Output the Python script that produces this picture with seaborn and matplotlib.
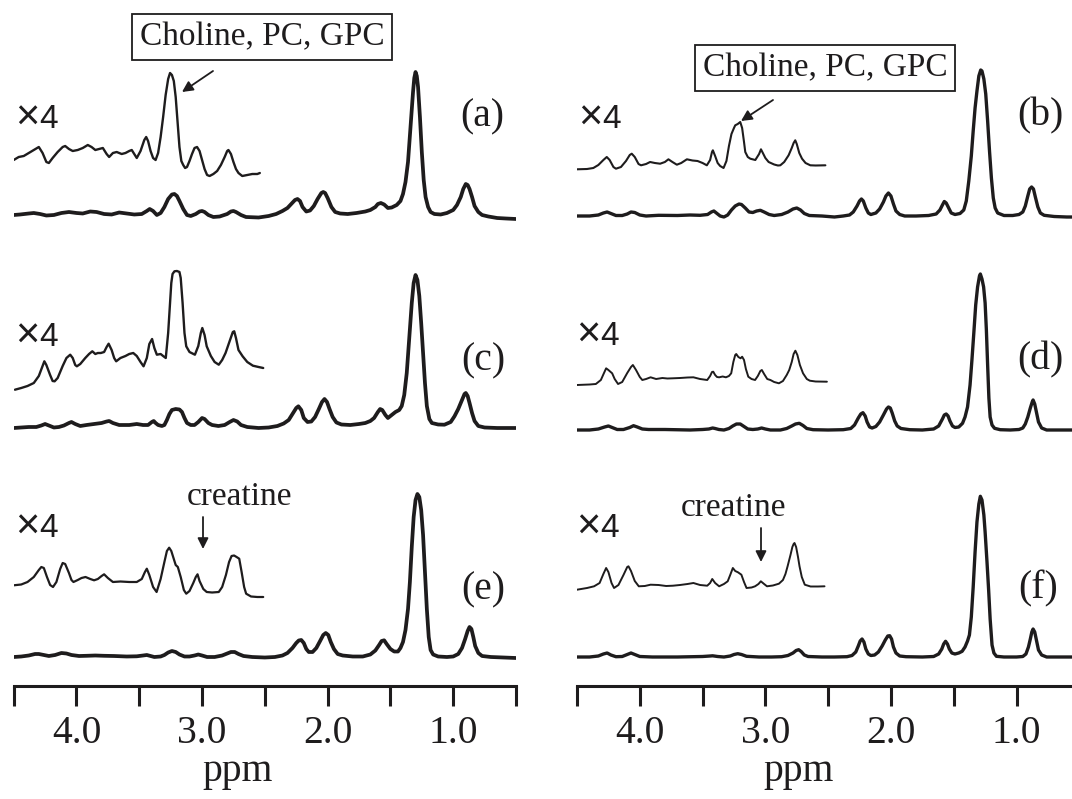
import numpy as np
import matplotlib
matplotlib.use("Agg")
import matplotlib.pyplot as plt
import seaborn as sns

# ---- data (ppm, intensity above each panel's baseline) ----
# main spectra
ppm_a = [4.50, 4.45, 4.38, 4.34, 4.29, 4.24, 4.18, 4.12, 4.06, 4.00, 3.95, 3.89, 3.84, 3.78, 3.72, 3.66,
         3.60, 3.54, 3.48, 3.44, 3.417, 3.39, 3.36, 3.33, 3.30, 3.27, 3.24, 3.22, 3.20, 3.18, 3.15, 3.12,
         3.09, 3.05, 3.02, 3.00, 2.98, 2.95, 2.91, 2.86, 2.80, 2.77, 2.75, 2.73, 2.69, 2.65, 2.55, 2.47,
         2.41, 2.36, 2.32, 2.29, 2.26, 2.24, 2.22, 2.20, 2.17, 2.14, 2.11, 2.08, 2.05, 2.035, 2.02, 2.00,
         1.97, 1.94, 1.90, 1.84, 1.77, 1.70, 1.66, 1.62, 1.60, 1.576, 1.55, 1.52, 1.49, 1.45, 1.42, 1.40,
         1.38, 1.36, 1.34, 1.32, 1.31, 1.30, 1.29, 1.28, 1.265, 1.25, 1.235, 1.22, 1.20, 1.18, 1.15, 1.10,
         1.05, 1.00, 0.97, 0.94, 0.92, 0.90, 0.885, 0.87, 0.85, 0.83, 0.80, 0.77, 0.72, 0.65, 0.58, 0.50]
int_a = [2, 2.5, 3.5, 4, 3, 1.5, 2, 4, 5, 4, 3.5, 5.5, 5, 3, 2.5, 4.5,
         3.5, 2.5, 3, 6, 8, 6, 2, 4, 10, 18, 22.5, 23, 21, 16, 8, 2,
         1, 3, 5.5, 6, 5, 2, 0, 0.5, 3, 5.5, 6, 5, 2, 0, -0.5, 1,
         3, 6, 9, 13, 17, 18, 16, 10, 5.5, 6.5, 11, 18, 24, 25, 24, 19,
         10, 5, 3.5, 3, 4, 5.5, 7, 10, 13, 14, 12.5, 9, 9.5, 12, 16, 23,
         35, 55, 90, 125, 139, 145, 141, 130, 100, 65, 37, 20, 10, 5, 3, 2.5,
         4, 7, 12, 20, 28, 33, 32, 28, 20, 11, 5, 2, 0.5, -1, -1.5, -2]

ppm_b = [4.50, 4.40, 4.33, 4.29, 4.26, 4.23, 4.19, 4.14, 4.10, 4.07, 4.04, 4.00, 3.95, 3.85, 3.70, 3.60,
         3.52, 3.46, 3.43, 3.41, 3.39, 3.36, 3.33, 3.30, 3.27, 3.24, 3.21, 3.19, 3.16, 3.13, 3.10, 3.07,
         3.04, 3.01, 2.97, 2.93, 2.87, 2.82, 2.78, 2.75, 2.72, 2.69, 2.65, 2.55, 2.45, 2.38, 2.33, 2.30,
         2.27, 2.25, 2.235, 2.22, 2.20, 2.18, 2.16, 2.12, 2.09, 2.06, 2.04, 2.02, 2.00, 1.98, 1.96, 1.93,
         1.89, 1.80, 1.70, 1.64, 1.61, 1.59, 1.575, 1.56, 1.54, 1.52, 1.49, 1.45, 1.42, 1.40, 1.38, 1.36,
         1.345, 1.33, 1.315, 1.30, 1.285, 1.275, 1.26, 1.245, 1.23, 1.215, 1.20, 1.185, 1.17, 1.15, 1.10, 1.03,
         0.98, 0.95, 0.93, 0.91, 0.895, 0.88, 0.865, 0.85, 0.83, 0.81, 0.78, 0.70, 0.60, 0.50]
int_b = [0, 0, 1, 3, 4, 2.5, 0.5, 0.5, 2, 4, 3.5, 1, 0, 0.7, 0.5, 1,
         0.7, 1.5, 4, 5, 3, 0, -1, 1, 6, 10, 12, 11.5, 8, 4, 3.5, 5,
         5.7, 4, 1.5, 0.5, 1.5, 4, 7, 8, 6, 2.5, 0.5, 0, -1, 0, 1, 4,
         10, 15, 17, 15, 8, 3, 1.5, 3, 7, 14, 20, 23, 20, 12, 5, 1.5,
         0, 0, 0.5, 2, 6, 11, 14.5, 13, 8, 3, 1.5, 2.5, 6, 15, 35, 60,
         85, 108, 125, 140, 146, 145, 137, 122, 95, 65, 38, 18, 8, 3, 0.5, 0.5,
         1.5, 4, 10, 20, 27, 29, 27, 19, 9, 3, 0.7, -0.5, -1, -1]

ppm_c = [4.50, 4.44, 4.38, 4.32, 4.28, 4.25, 4.22, 4.18, 4.14, 4.10, 4.06, 4.04, 4.01, 3.97, 3.92, 3.86,
         3.80, 3.76, 3.74, 3.71, 3.66, 3.58, 3.52, 3.47, 3.43, 3.40, 3.385, 3.37, 3.35, 3.32, 3.30, 3.28,
         3.26, 3.24, 3.21, 3.18, 3.16, 3.14, 3.12, 3.09, 3.06, 3.03, 3.00, 2.98, 2.95, 2.92, 2.87, 2.82,
         2.78, 2.75, 2.72, 2.69, 2.64, 2.55, 2.47, 2.40, 2.35, 2.31, 2.28, 2.25, 2.233, 2.21, 2.19, 2.16,
         2.13, 2.10, 2.07, 2.045, 2.025, 2.005, 1.985, 1.96, 1.93, 1.89, 1.82, 1.75, 1.70, 1.66, 1.63, 1.60,
         1.582, 1.565, 1.54, 1.52, 1.49, 1.46, 1.43, 1.41, 1.39, 1.37, 1.35, 1.33, 1.315, 1.30, 1.285, 1.27,
         1.255, 1.24, 1.225, 1.21, 1.19, 1.17, 1.12, 1.07, 1.02, 0.99, 0.96, 0.93, 0.91, 0.90, 0.885, 0.87,
         0.85, 0.83, 0.80, 0.75, 0.65, 0.50]
int_c = [0, 0.5, 1, 1, 2.5, 4, 2.5, 0.5, 1, 2.5, 5, 6, 4, 2, 3, 4,
         5, 6.5, 7, 5, 3, 3, 4, 3, 3, 6, 7, 5, 3, 2, 3, 8,
         14, 18, 19, 18.5, 16, 10, 5, 3, 3, 6, 10, 9, 5, 3, 2, 3,
         6, 8, 6.5, 3, 1, 0, 0.5, 2, 4.5, 8, 14, 20, 21.7, 18, 10, 6,
         6.5, 11, 19, 26, 29, 26, 19, 11, 5.5, 3.5, 3, 4, 5, 7, 10, 16,
         19, 18, 13, 10, 13, 16, 18, 22, 33, 55, 90, 125, 145, 153, 148, 132,
         105, 75, 45, 22, 9, 5, 3.5, 3.3, 6, 11.7, 19, 28, 34, 35, 32, 25,
         15, 7, 2, 0.5, 0, 0]

ppm_d = [4.50, 4.40, 4.33, 4.28, 4.25, 4.22, 4.18, 4.13, 4.08, 4.05, 4.02, 3.98, 3.93, 3.80, 3.60, 3.50,
         3.45, 3.42, 3.40, 3.37, 3.33, 3.29, 3.26, 3.23, 3.20, 3.17, 3.14, 3.10, 3.06, 3.03, 3.00, 2.96,
         2.88, 2.83, 2.79, 2.76, 2.73, 2.70, 2.67, 2.62, 2.50, 2.38, 2.32, 2.29, 2.26, 2.24, 2.223, 2.205,
         2.19, 2.17, 2.15, 2.12, 2.09, 2.06, 2.035, 2.02, 2.005, 1.99, 1.97, 1.95, 1.92, 1.85, 1.75, 1.66,
         1.62, 1.59, 1.575, 1.56, 1.545, 1.53, 1.51, 1.49, 1.46, 1.43, 1.41, 1.39, 1.37, 1.355, 1.34, 1.325,
         1.31, 1.295, 1.288, 1.275, 1.262, 1.25, 1.24, 1.23, 1.22, 1.21, 1.195, 1.175, 1.13, 1.05, 0.98, 0.95,
         0.93, 0.91, 0.89, 0.875, 0.868, 0.855, 0.84, 0.825, 0.80, 0.76, 0.65, 0.55]
int_d = [0, 0, 1, 3, 4, 2.5, 0.5, 0.5, 2.5, 4.3, 3, 1, 0.5, 0.5, 0, 0.5,
         1, 2, 1.5, 0.5, 0, 1.5, 4, 6, 6, 3.5, 1, 0.5, 1, 2, 1, 0,
         0, 1.5, 4, 6, 6.7, 4.5, 1.5, 0.3, 0, 0.3, 1.5, 5, 12, 16, 17.3, 14,
         8, 3, 2, 3.5, 8, 15, 21, 23, 22, 17, 9, 4, 1.5, 0.3, 0, 1,
         4, 11, 15, 16, 14, 9, 4, 2.5, 3, 6.7, 13, 23, 45, 70, 97, 125,
         143, 154, 156, 151, 143, 127, 100, 65, 32, 13, 5, 1.7, 0.3, 0, 0.5, 2,
         6, 13, 22, 28, 30, 26, 17, 8, 2, 0, 0, 0]

ppm_e = [4.50, 4.44, 4.38, 4.33, 4.30, 4.26, 4.22, 4.17, 4.12, 4.08, 4.04, 3.98, 3.92, 3.85, 3.78, 3.70,
         3.60, 3.52, 3.47, 3.44, 3.41, 3.38, 3.33, 3.30, 3.27, 3.24, 3.21, 3.18, 3.14, 3.10, 3.06, 3.03,
         3.00, 2.96, 2.90, 2.84, 2.80, 2.77, 2.74, 2.71, 2.67, 2.60, 2.50, 2.42, 2.36, 2.32, 2.28, 2.25,
         2.23, 2.21, 2.19, 2.17, 2.15, 2.12, 2.09, 2.06, 2.035, 2.015, 1.995, 1.975, 1.95, 1.92, 1.88, 1.80,
         1.72, 1.66, 1.62, 1.59, 1.57, 1.55, 1.53, 1.50, 1.47, 1.44, 1.42, 1.40, 1.38, 1.36, 1.345, 1.33,
         1.315, 1.30, 1.285, 1.27, 1.255, 1.24, 1.225, 1.21, 1.195, 1.18, 1.16, 1.12, 1.05, 1.00, 0.96, 0.93,
         0.905, 0.885, 0.87, 0.855, 0.84, 0.825, 0.80, 0.77, 0.70, 0.60, 0.50]
int_e = [0, 0.5, 1.5, 3, 3, 2, 1, 2, 4, 3.5, 2, 1, 1.2, 1.5, 1.2, 1,
         0.5, 0.7, 1.5, 2, 1, 0, 0.5, 2, 4.5, 6, 5, 2.5, 0.5, 0.5, 1.5, 2.5,
         1.5, 0, 0, 1.5, 3.5, 5, 5, 3, 1, 0, -0.5, 0, 1.5, 4, 9, 14,
         16.5, 17, 14, 8, 5, 5, 9, 16, 22, 24, 22, 15, 8, 3, 1.5, 0.5,
         0.5, 2.5, 6.5, 12, 16, 16.7, 13, 8, 5.5, 5.5, 9, 15, 27, 48, 75, 110,
         140, 157, 163, 160, 147, 122, 85, 48, 20, 7, 2.5, 0.5, 0, 0.5, 3, 9,
         18, 26, 30, 28, 20, 11, 4, 1, 0, -0.5, -1]

ppm_f = [4.50, 4.40, 4.33, 4.29, 4.26, 4.23, 4.19, 4.14, 4.10, 4.07, 4.04, 4.00, 3.90, 3.70, 3.50, 3.44,
         3.42, 3.38, 3.33, 3.28, 3.25, 3.22, 3.19, 3.15, 3.05, 2.95, 2.87, 2.82, 2.78, 2.755, 2.735, 2.715,
         2.69, 2.66, 2.55, 2.45, 2.35, 2.31, 2.28, 2.26, 2.245, 2.23, 2.215, 2.20, 2.18, 2.16, 2.13, 2.10,
         2.07, 2.045, 2.025, 2.01, 1.995, 1.98, 1.96, 1.93, 1.88, 1.75, 1.66, 1.62, 1.595, 1.58, 1.565, 1.55,
         1.535, 1.515, 1.49, 1.46, 1.433, 1.41, 1.39, 1.375, 1.36, 1.345, 1.33, 1.315, 1.30, 1.288, 1.275, 1.26,
         1.25, 1.235, 1.222, 1.21, 1.195, 1.18, 1.16, 1.10, 1.00, 0.95, 0.925, 0.905, 0.89, 0.878, 0.868, 0.855,
         0.84, 0.825, 0.80, 0.76, 0.65, 0.55]
int_f = [0, 0, 1, 3, 4, 2, 0.3, 0.5, 2.5, 4, 2.5, 0.5, 0, 0, 0.5, 1,
         1.2, 0.5, 0, 1, 2.5, 3.3, 2.5, 0.7, 0, 0, 0.3, 1.5, 4, 6.5, 7.3, 5.5,
         2, 0.5, 0, 0, 0.3, 1.5, 5, 11, 16, 18, 15, 8, 3, 1.5, 2, 5,
         11, 17, 21, 21.3, 18, 10, 4, 1, 0.3, 0, 0.5, 3, 8, 13, 15.7, 13,
         8, 4, 3, 4, 5.7, 10, 16, 22, 40, 70, 105, 135, 153, 160.7, 157, 142,
         125, 95, 67, 38, 12, 4, 0.7, 0, 0, 0.5, 3, 10, 18, 25, 28, 25,
         16, 7, 2, 0, 0, 0]

# x4 expansions of 4.5-2.5 ppm (intensity above the same baseline)
ins_ppm_a = [4.50, 4.46, 4.42, 4.38, 4.34, 4.30, 4.27, 4.24, 4.22, 4.19, 4.15, 4.11, 4.09, 4.06, 4.03, 3.99,
             3.95, 3.91, 3.88, 3.85, 3.82, 3.79, 3.76, 3.74, 3.71, 3.68, 3.64, 3.61, 3.58, 3.56, 3.54, 3.52,
             3.49, 3.46, 3.445, 3.43, 3.41, 3.39, 3.37, 3.35, 3.33, 3.31, 3.29, 3.27, 3.255, 3.24, 3.225, 3.21,
             3.195, 3.18, 3.165, 3.15, 3.135, 3.12, 3.10, 3.08, 3.06, 3.04, 3.02, 3.00, 2.98, 2.96, 2.94, 2.91,
             2.88, 2.85, 2.82, 2.80, 2.79, 2.77, 2.75, 2.73, 2.71, 2.68, 2.64, 2.60, 2.56, 2.54]
ins_int_a = [57, 60, 61, 64, 67, 70, 64, 55, 54, 59, 65, 70, 71, 68, 66, 67,
             69, 72, 70, 67, 68, 69, 63, 60, 64, 65, 63, 64, 66, 67, 63, 59,
             66, 77, 80, 76, 66, 59, 57, 64, 80, 100, 122, 138, 144, 142, 136, 120,
             95, 70, 56, 52, 49, 50, 56, 63, 69, 70, 66, 57, 48, 42, 41, 43,
             46, 52, 60, 66, 67, 63, 55, 48, 44, 41, 42, 43, 43, 44]

ins_ppm_b = [4.50, 4.42, 4.37, 4.33, 4.29, 4.263, 4.24, 4.21, 4.19, 4.15, 4.11, 4.08, 4.064, 4.04, 4.01, 3.99,
             3.95, 3.918, 3.88, 3.838, 3.80, 3.772, 3.74, 3.705, 3.67, 3.625, 3.58, 3.54, 3.50, 3.466, 3.44,
             3.425, 3.418, 3.40, 3.38, 3.36, 3.333, 3.31, 3.29, 3.27, 3.25, 3.24, 3.22, 3.20, 3.185, 3.17, 3.16,
             3.14, 3.12, 3.08, 3.05, 3.035, 3.02, 3.00, 2.974, 2.93, 2.90, 2.881, 2.85, 2.815, 2.79, 2.775,
             2.762, 2.75, 2.73, 2.708, 2.68, 2.642, 2.60, 2.522]
ins_int_b = [46.7, 47, 48, 51, 56, 59, 56, 49, 47.3, 49, 55, 61, 62.3, 59, 52, 50.7,
             52, 54, 53, 52.3, 54, 56.7, 54, 51.3, 53, 56.7, 55.5, 55, 53, 50.7, 56,
             64, 65.7, 60, 53, 50, 48, 55, 70, 82, 88, 90.7, 92, 94, 88, 74, 64,
             59, 57.3, 56, 62, 66.7, 63, 58, 54, 51.5, 50.5, 50.7, 54, 60.7, 68, 73,
             75.7, 72, 63, 57.3, 53, 50.7, 50.5, 50.7]

ins_ppm_c = [4.49, 4.44, 4.39, 4.34, 4.30, 4.27, 4.256, 4.24, 4.21, 4.19, 4.174, 4.15, 4.11, 4.08, 4.05, 4.03,
             4.01, 3.997, 3.97, 3.93, 3.90, 3.874, 3.85, 3.83, 3.806, 3.78, 3.76, 3.744, 3.72, 3.70, 3.684,
             3.65, 3.61, 3.58, 3.548, 3.52, 3.49, 3.466, 3.44, 3.42, 3.398, 3.38, 3.36, 3.33, 3.31, 3.289,
             3.27, 3.255, 3.245, 3.235, 3.22, 3.20, 3.18, 3.17, 3.155, 3.14, 3.126, 3.10, 3.057, 3.03, 3.01,
             2.998, 2.98, 2.963, 2.93, 2.90, 2.867, 2.84, 2.813, 2.78, 2.755, 2.744, 2.73, 2.71, 2.677, 2.64,
             2.595, 2.55, 2.513]
ins_int_c = [38.3, 40, 42, 45, 52, 62, 66.7, 63, 53, 47, 46.7, 50, 62, 70, 73.3, 70,
             63, 61.7, 64, 70, 74, 76.7, 74, 75, 75, 76, 81, 84.3, 78, 70, 66.7,
             70, 72, 74, 75, 72, 66, 61.7, 70, 84, 89, 80, 73.3, 74, 72, 70,
             95, 125, 145, 154, 156.7, 157, 156, 150, 125, 95, 81.7, 76, 73.3, 82, 95,
             100, 93, 81.7, 72, 66, 63.3, 68, 75, 87, 96, 96.7, 90, 78, 71.7, 66,
             62.3, 61, 60]

ins_ppm_d = [4.50, 4.40, 4.35, 4.31, 4.285, 4.268, 4.25, 4.22, 4.20, 4.173, 4.14, 4.10, 4.07, 4.055, 4.03,
             4.00, 3.98, 3.95, 3.914, 3.87, 3.82, 3.78, 3.736, 3.68, 3.62, 3.573, 3.52, 3.463, 3.44, 3.425,
             3.415, 3.40, 3.385, 3.368, 3.34, 3.314, 3.29, 3.272, 3.255, 3.24, 3.232, 3.215, 3.197, 3.185,
             3.17, 3.155, 3.136, 3.11, 3.082, 3.06, 3.04, 3.028, 3.01, 2.985, 2.96, 2.93, 2.892, 2.86, 2.83,
             2.81, 2.79, 2.775, 2.761, 2.745, 2.725, 2.70, 2.67, 2.646, 2.60, 2.51]
ins_int_d = [45, 45.5, 46, 50, 57, 61.7, 60, 56.7, 51, 46, 48, 57, 63, 65, 60,
             53, 50, 51, 52.7, 51, 52, 51.5, 51.7, 52, 52.5, 52.7, 51, 50, 54, 58,
             58.3, 55, 53, 52.7, 53.5, 52.7, 54, 56.7, 68, 75, 76, 73, 71.7, 73.3,
             70, 61, 53.3, 51, 50, 54, 59, 60, 56, 51, 50, 48, 46.7, 49, 55,
             60, 68, 76, 79.3, 75, 65, 56.7, 51, 49.3, 48.5, 48.3]

ins_ppm_e = [4.50, 4.44, 4.39, 4.34, 4.30, 4.28, 4.26, 4.235, 4.21, 4.187, 4.16, 4.13, 4.11, 4.09, 4.06, 4.04,
             4.024, 3.99, 3.96, 3.928, 3.89, 3.86, 3.83, 3.80, 3.78, 3.75, 3.71, 3.65, 3.58, 3.52, 3.48,
             3.455, 3.44, 3.42, 3.39, 3.362, 3.33, 3.30, 3.28, 3.262, 3.245, 3.225, 3.21, 3.193, 3.17, 3.145,
             3.126, 3.10, 3.07, 3.05, 3.036, 3.02, 2.99, 2.963, 2.92, 2.867, 2.84, 2.81, 2.785, 2.765, 2.745,
             2.725, 2.704, 2.685, 2.665, 2.649, 2.61, 2.56, 2.513]
ins_int_e = [71.7, 72.5, 75, 80, 87, 90, 89, 80, 72, 70, 75, 88, 94, 93, 84, 77,
             75, 77, 79, 80, 78, 76.7, 78, 81, 82.7, 79, 75, 75.5, 75, 75, 78,
             85, 88.3, 82, 70, 65, 78, 95, 106, 109.3, 106, 98, 92, 90, 80, 67,
             63.3, 66, 74, 80, 82.7, 76, 68, 65, 64.5, 65, 70, 82, 95, 101, 101.5,
             100, 98.3, 85, 70, 63.3, 60.5, 60, 60]

ins_ppm_f = [4.50, 4.42, 4.364, 4.32, 4.29, 4.268, 4.25, 4.225, 4.205, 4.17, 4.13, 4.10, 4.09, 4.07, 4.04,
             4.008, 3.96, 3.914, 3.85, 3.79, 3.736, 3.68, 3.62, 3.573, 3.52, 3.463, 3.44, 3.423, 3.40, 3.368,
             3.33, 3.30, 3.28, 3.259, 3.24, 3.218, 3.191, 3.17, 3.15, 3.11, 3.082, 3.055, 3.036, 3.01, 2.987,
             2.94, 2.892, 2.86, 2.84, 2.823, 2.80, 2.785, 2.775, 2.768, 2.755, 2.74, 2.728, 2.71, 2.686, 2.64,
             2.58, 2.529]
ins_int_f = [67.3, 69, 70.7, 74, 83, 89, 85, 74, 69, 72, 82, 90, 90.7, 86, 76,
             70.7, 71, 72.3, 72, 71, 71.3, 72, 73, 74, 72, 71.3, 74, 78, 74, 70.7,
             73, 75.7, 82, 89, 86, 84.7, 82.3, 75, 69, 69.5, 70.7, 73, 75.7, 73, 70.7,
             71.5, 73.3, 77, 83, 90.7, 102, 110, 113, 114, 110, 100, 90.7, 80, 72.3, 70.5,
             70.5, 70.7]

panel_tags = ["(a)", "(b)", "(c)", "(d)", "(e)", "(f)"]
tick_ppm = [4.5, 4.0, 3.5, 3.0, 2.5, 2.0, 1.5, 1.0, 0.5]
tick_text = ["", "4.0", "", "3.0", "", "2.0", "", "1.0", ""]
box_text = "Choline, PC, GPC"
arrow_text = "creatine"

# ---- layout (pixels of the 1072x799 picture) ----
W, H = 1072, 799
AX_BOTTOM = 685.5
ink = "#1e1c1d"

sns.set_style("white")
plt.rcParams["font.family"] = ["Liberation Serif", "DejaVu Serif"]

fig = plt.figure(figsize=(W / 100, H / 100), dpi=100)


def fx(x):
    return x / W


def fy(y):
    return 1 - y / H


col_left = [13.7, 577]
axes = []
for left in col_left:
    ax = fig.add_axes([fx(left), fy(AX_BOTTOM), 502.3 / W, AX_BOTTOM / H])
    ax.set_xlim(4.5, 0.5)
    ax.set_ylim(0, AX_BOTTOM)
    ax.set_facecolor("none")
    for s in ["top", "left", "right"]:
        ax.spines[s].set_visible(False)
    ax.spines["bottom"].set_linewidth(2.2)
    ax.spines["bottom"].set_color(ink)
    ax.set_xticks(tick_ppm)
    ax.set_xticklabels(tick_text)
    ax.set_yticks([])
    ax.tick_params(axis="x", direction="out", length=14.5, width=2.2, pad=7,
                   labelsize=28.5, colors=ink, bottom=True)
    axes.append(ax)

main = [(ppm_a, int_a), (ppm_b, int_b), (ppm_c, int_c), (ppm_d, int_d), (ppm_e, int_e), (ppm_f, int_f)]
insets = [(ins_ppm_a, ins_int_a), (ins_ppm_b, ins_int_b), (ins_ppm_c, ins_int_c),
          (ins_ppm_d, ins_int_d), (ins_ppm_e, ins_int_e), (ins_ppm_f, ins_int_f)]
baselines = [217, 216, 428, 430, 657, 657]
main_lw = [2.7, 2.4, 2.7, 2.4, 2.7, 2.4]
ins_lw = [1.7, 1.5, 1.7, 1.4, 1.6, 1.4]

for i in range(6):
    ax = axes[i % 2]
    off = AX_BOTTOM - baselines[i]
    p, v = main[i]
    sns.lineplot(x=p, y=np.array(v) + off, ax=ax, color=ink, lw=main_lw[i],
                 sort=False, estimator=None, solid_joinstyle="round")
    p, v = insets[i]
    sns.lineplot(x=p, y=np.array(v) + off, ax=ax, color=ink, lw=ins_lw[i],
                 sort=False, estimator=None, solid_joinstyle="round")

# x labels
for xp in [238, 799]:
    fig.text(fx(xp), fy(781), "ppm", ha="center", va="baseline", fontsize=28.5, color=ink)

# panel tags
tag_pos = [(482, 117), (1040, 116), (483, 361), (1040, 360), (483, 590), (1038, 589)]
for t, (x, y) in zip(panel_tags, tag_pos):
    fig.text(fx(x), fy(y), t, ha="center", va="center", fontsize=28.5, color=ink)

# x4 marks (large multiplication sign, then the digit)
x4_pos = [(16, 128), (579, 128), (16, 346), (577, 345), (16, 537), (577, 537)]
sans = ["Liberation Sans", "DejaVu Sans"]
for x, y in x4_pos:
    fig.text(fx(x + 11), fy(y - 9.5), "\u00d7", ha="center", va="center", fontsize=30,
             color=ink, family=sans)
    fig.text(fx(x + 23), fy(y), "4", ha="left", va="baseline", fontsize=24,
             color=ink, family=sans)

# callout boxes with arrows
for (cx, cy), tail, tip in [((262, 37), (213, 71), (182, 92)),
                            ((825, 68), (773, 100), (741, 121))]:
    fig.text(fx(cx), fy(cy), box_text, ha="center", va="center", fontsize=24, color=ink,
             bbox=dict(boxstyle="square,pad=0.22", fc="white", ec=ink, lw=1.3))
    axes[0].annotate("", xy=(fx(tip[0]), fy(tip[1])), xytext=(fx(tail[0]), fy(tail[1])),
                     xycoords="figure fraction", textcoords="figure fraction",
                     arrowprops=dict(arrowstyle="-|>", color=ink, lw=1.3,
                                     mutation_scale=16, shrinkA=0, shrinkB=0))

# creatine labels
for (cx, by), ax_x, (y0, y1) in [((240, 505), 203, (517, 549)),
                                 ((733, 516), 761, (528, 562))]:
    fig.text(fx(cx), fy(by), arrow_text, ha="center", va="baseline", fontsize=24, color=ink)
    axes[0].annotate("", xy=(fx(ax_x), fy(y1)), xytext=(fx(ax_x), fy(y0)),
                     xycoords="figure fraction", textcoords="figure fraction",
                     arrowprops=dict(arrowstyle="-|>", color=ink, lw=1.3,
                                     mutation_scale=16, shrinkA=0, shrinkB=0))

fig.savefig("out.png", dpi=100, facecolor="white")
